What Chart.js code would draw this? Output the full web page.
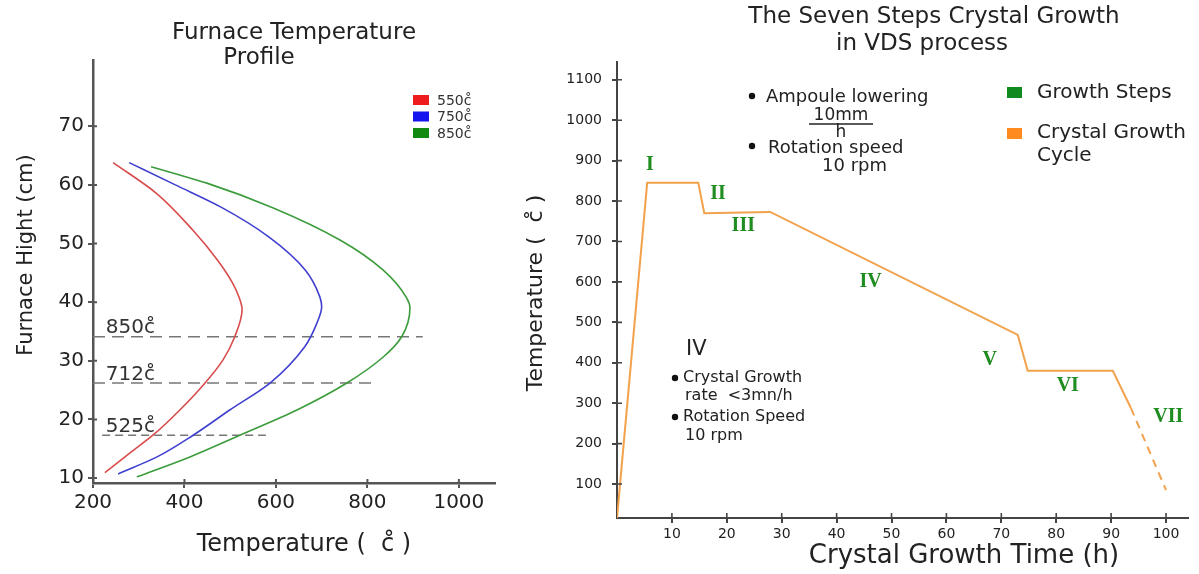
<!DOCTYPE html>
<html>
<head>
<meta charset="utf-8">
<script src="https://cdn.jsdelivr.net/npm/chart.js@4.4.1/dist/chart.umd.min.js"></script>
<style>
  body { margin: 0; background: #fff; }
  #wrap { position: relative; width: 1199px; height: 574px; overflow: hidden; }
  #left { position: absolute; left: 0; top: 0; }
  #right { position: absolute; left: 500px; top: 0; }
</style>
</head>
<body>
<div id="wrap">
  <canvas id="left" width="500" height="574"></canvas>
  <canvas id="right" width="699" height="574"></canvas>
</div>
<script>
// furnace profile, read top of furnace first (temperature in C, height in cm)
const redTemp = [244, 338, 418, 472, 505, 520, 526, 510, 484, 445, 390, 331, 281, 226];
const redHeight = [63.8, 58.6, 52.3, 47.2, 43.3, 40.7, 38.7, 34.1, 30.1, 26.2, 21.6, 17.3, 14.3, 10.9];
const blueTemp = [279, 380, 480, 585, 664, 696, 700, 690, 663, 587, 499, 419, 340, 255];
const blueHeight = [63.8, 60.0, 56.2, 51.1, 45.5, 40.9, 39.2, 36.5, 32.4, 26.2, 21.6, 17.3, 13.6, 10.7];
const greenTemp = [327, 449, 593, 740, 834, 886, 893, 875, 834, 755, 646, 521, 412, 296];
const greenHeight = [63.1, 60.3, 56.1, 50.6, 45.5, 40.7, 39.0, 34.1, 30.6, 26.2, 21.6, 17.3, 13.6, 10.2];
const profileLabels = ['550c\u030A', '750c\u030A', '850c\u030A'];

// dashed reference levels
const refLabels = ['850c\u030A', '712c\u030A', '525c\u030A'];
const refHeight = [34.1, 26.2, 17.3];
const refFrom = [200, 200, 220];
const refTo = [921, 812, 578];

const tempTicks = [200, 400, 600, 800, 1000];
const heightTicks = [10, 20, 30, 40, 50, 60, 70];

// crystal growth cycle
const growthTime = [0, 5.5, 14.8, 15.9, 27.9, 73.0, 74.8, 90.3, 93.6, 100];
const growthTemp = [16, 845, 845, 770, 773, 469, 380, 380, 288, 85];
const stepLabels = ['I', 'II', 'III', 'IV', 'V', 'VI', 'VII'];
const stepTime = [6.0, 18.4, 23.0, 46.2, 67.9, 82.1, 100.4];
const stepTemp = [889, 817, 738, 600, 407, 343, 266];

const timeTicks = [10, 20, 30, 40, 50, 60, 70, 80, 90, 100];
const growthTempTicks = [100, 200, 300, 400, 500, 600, 700, 800, 900, 1000, 1100];

const FONT = '"DejaVu Sans", sans-serif';
Chart.defaults.font.family = FONT;
Chart.defaults.color = '#222';

function text(ctx, str, x, y, size, align, opts) {
  opts = opts || {};
  ctx.save();
  ctx.font = (opts.weight || 'normal') + ' ' + size + 'px ' + (opts.family || FONT);
  ctx.fillStyle = opts.color || '#222';
  ctx.textAlign = align || 'left';
  ctx.textBaseline = opts.base || 'middle';
  ctx.translate(x, y);
  if (opts.rotate) ctx.rotate(opts.rotate);
  ctx.fillText(str, 0, 0);
  ctx.restore();
}

function toPoints(xs, ys) {
  return xs.map((v, i) => ({ x: v, y: ys[i] }));
}

function innerTicks(chart, len, color, width) {
  const ctx = chart.ctx, xs = chart.scales.x, ys = chart.scales.y;
  ctx.save();
  ctx.strokeStyle = color;
  ctx.lineWidth = width;
  ctx.beginPath();
  xs.ticks.forEach(t => {
    const px = xs.getPixelForValue(t.value);
    ctx.moveTo(px, xs.top);
    ctx.lineTo(px, xs.top - len);
  });
  ys.ticks.forEach(t => {
    const py = ys.getPixelForValue(t.value);
    ctx.moveTo(ys.right, py);
    ctx.lineTo(ys.right + len, py);
  });
  ctx.stroke();
  ctx.restore();
}

function axisStyle(color, width) {
  return {
    grid: { drawOnChartArea: false, drawTicks: true, tickLength: 5, color: color, lineWidth: 2 },
    border: { display: true, color: color, width: width }
  };
}

// ---------- left chart ----------
const curveColors = ['#d84c4c', '#4040d0', '#3c9c3c'];
const legendColors = ['#ee1c1c', '#1414ee', '#128a12'];

const leftDatasets = [
  [redTemp, redHeight],
  [blueTemp, blueHeight],
  [greenTemp, greenHeight]
].map((s, i) => ({
  data: toPoints(s[0], s[1]),
  indexAxis: 'y',
  showLine: true,
  borderColor: curveColors[i],
  borderWidth: 1.6,
  pointRadius: 0,
  cubicInterpolationMode: 'monotone'
}));

refHeight.forEach((h, i) => {
  leftDatasets.push({
    data: [{ x: refFrom[i], y: h }, { x: refTo[i], y: h }],
    showLine: true,
    borderColor: '#777',
    borderWidth: 1.4,
    borderDash: i < 2 ? [12, 7] : [8, 5],
    pointRadius: 0
  });
});

const leftText = {
  id: 'leftText',
  afterDraw(chart) {
    const ctx = chart.ctx, xs = chart.scales.x, ys = chart.scales.y;
    innerTicks(chart, 4, '#555', 2);
    text(ctx, 'Furnace Temperature', 294, 33, 23, 'center');
    text(ctx, 'Profile', 259, 58, 23, 'center');
    legendColors.forEach((c, i) => {
      ctx.fillStyle = c;
      ctx.fillRect(413, 95 + i * 16.5, 16, 10);
      text(ctx, profileLabels[i], 437, 101 + i * 16.5, 14, 'left', { color: '#333' });
    });
    refLabels.forEach((t, i) => {
      text(ctx, t, xs.getPixelForValue(228), ys.getPixelForValue(refHeight[i] + 0.6), 20, 'left', { base: 'alphabetic', color: '#333' });
    });
    text(ctx, 'Temperature (  c\u030A )', 304, 545, 24, 'center');
    text(ctx, 'Furnace Hight (cm)', 27, 255, 21, 'center', { rotate: -Math.PI / 2 });
  }
};

new Chart(document.getElementById('left'), {
  type: 'scatter',
  data: { datasets: leftDatasets },
  options: {
    responsive: false,
    animation: false,
    layout: { padding: { top: 60, right: 5, left: 0, bottom: 0 } },
    plugins: { legend: { display: false }, tooltip: { enabled: false } },
    scales: {
      x: Object.assign({
        type: 'linear', min: 200, max: 1079,
        afterFit: s => { s.height = 91; },
        afterBuildTicks: s => { s.ticks = tempTicks.map(v => ({ value: v })); },
        ticks: { font: { size: 20 }, color: '#222', padding: 3, autoSkip: false, maxRotation: 0, callback: v => String(v) }
      }, axisStyle('#555', 2.5)),
      y: Object.assign({
        type: 'linear', min: 9.15, max: 81.3,
        afterFit: s => { s.width = 93; },
        afterBuildTicks: s => { s.ticks = heightTicks.map(v => ({ value: v })); },
        ticks: { font: { size: 20 }, color: '#222', padding: 4, autoSkip: false, callback: v => String(v) }
      }, axisStyle('#555', 2.5))
    }
  },
  plugins: [leftText]
});

// ---------- right chart ----------
const rightText = {
  id: 'rightText',
  afterDraw(chart) {
    const ctx = chart.ctx, xs = chart.scales.x, ys = chart.scales.y;
    innerTicks(chart, 5, '#444', 1.6);
    text(ctx, 'The Seven Steps Crystal Growth', 434, 17, 23, 'center');
    text(ctx, 'in VDS process', 422, 44, 23, 'center');

    stepLabels.forEach((t, i) => {
      text(ctx, t, xs.getPixelForValue(stepTime[i]), ys.getPixelForValue(stepTemp[i]), 20, 'center',
        { family: '"Liberation Serif", serif', weight: 'bold', color: '#1e8c1e' });
    });

    // legend
    ctx.fillStyle = '#0e8a1e';
    ctx.fillRect(507, 87, 15, 11);
    ctx.fillStyle = '#ff8a1e';
    ctx.fillRect(507, 128, 15, 11);
    text(ctx, 'Growth Steps', 537, 93, 20, 'left');
    text(ctx, 'Crystal Growth', 537, 133, 20, 'left');
    text(ctx, 'Cycle', 537, 156, 20, 'left');

    // process notes
    ctx.fillStyle = '#111';
    [[252, 96], [252, 146], [175, 378], [175, 417]].forEach(p => {
      ctx.beginPath(); ctx.arc(p[0], p[1], 3.2, 0, Math.PI * 2); ctx.fill();
    });
    text(ctx, 'Ampoule lowering', 266, 97, 18, 'left');
    text(ctx, '10mm', 341, 116, 17, 'center');
    ctx.strokeStyle = '#222'; ctx.lineWidth = 1.4;
    ctx.beginPath(); ctx.moveTo(309, 124); ctx.lineTo(373, 124); ctx.stroke();
    text(ctx, 'h', 341, 133, 17, 'center');
    text(ctx, 'Rotation speed', 268, 148, 18, 'left');
    text(ctx, '10 rpm', 322, 166, 18, 'left');

    text(ctx, 'IV', 186, 350, 21, 'left');
    text(ctx, 'Crystal Growth', 183, 378, 16, 'left');
    text(ctx, 'rate  <3mn/h', 185, 396, 16, 'left');
    text(ctx, 'Rotation Speed', 183, 417, 16, 'left');
    text(ctx, '10 rpm', 185, 436, 16, 'left');

    text(ctx, 'Crystal Growth Time (h)', 464, 556, 26, 'center');
    text(ctx, 'Temperature (  c\u030A )', 36, 293, 22, 'center', { rotate: -Math.PI / 2 });
  }
};

new Chart(document.getElementById('right'), {
  type: 'scatter',
  data: {
    datasets: [{
      data: toPoints(growthTime, growthTemp),
      showLine: true,
      borderColor: '#f2a24c',
      borderWidth: 2,
      pointRadius: 0,
      segment: { borderDash: c => c.p0DataIndex >= 8 ? [8, 6] : undefined }
    }]
  },
  options: {
    responsive: false,
    animation: false,
    layout: { padding: { top: 62, right: 11, left: 0, bottom: 0 } },
    plugins: { legend: { display: false }, tooltip: { enabled: false } },
    scales: {
      x: Object.assign({
        type: 'linear', min: 0, max: 104,
        afterFit: s => { s.height = 56; },
        afterBuildTicks: s => { s.ticks = timeTicks.map(v => ({ value: v })); },
        ticks: { font: { size: 14 }, color: '#222', padding: 3, autoSkip: false, maxRotation: 0, callback: v => String(v) }
      }, axisStyle('#444', 2)),
      y: Object.assign({
        type: 'linear', min: 16, max: 1144,
        afterFit: s => { s.width = 117; },
        afterBuildTicks: s => { s.ticks = growthTempTicks.map(v => ({ value: v })); },
        ticks: { font: { size: 14 }, color: '#222', padding: 10, autoSkip: false, callback: v => String(v) }
      }, axisStyle('#444', 2))
    }
  },
  plugins: [rightText]
});
</script>
</body>
</html>
